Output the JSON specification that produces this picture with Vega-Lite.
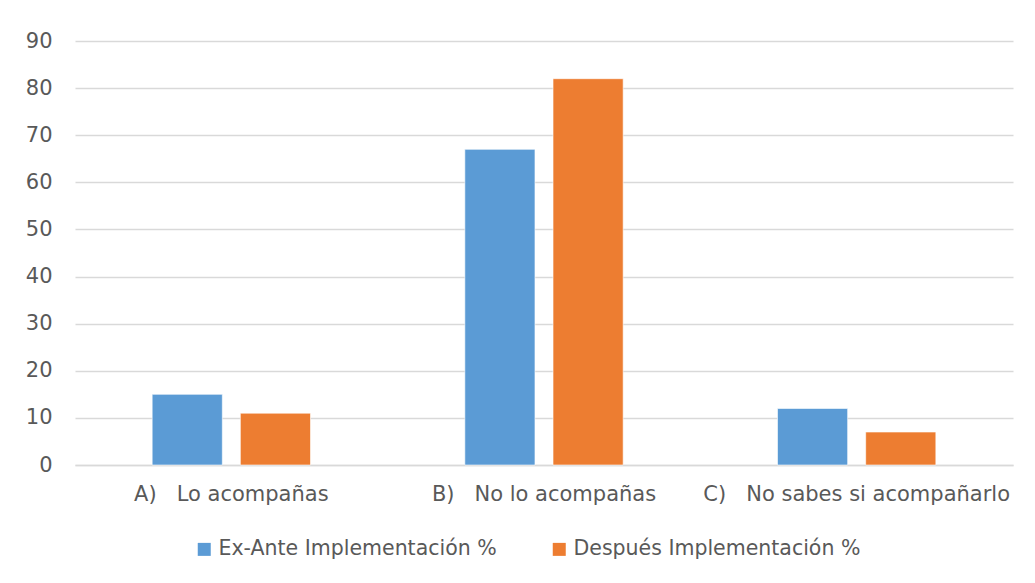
{
  "$schema": "https://vega.github.io/schema/vega-lite/v6.json",
  "autosize": {"type": "none"},
  "width": 938,
  "height": 424,
  "padding": {"left": 75, "top": 41, "right": 22, "bottom": 118},
  "background": "white",
  "data": {
    "values": [
      {"respuesta": "A)\u00a0\u00a0\u00a0Lo acompañas", "serie": "Ex-Ante Implementación %", "valor": 15},
      {"respuesta": "A)\u00a0\u00a0\u00a0Lo acompañas", "serie": "Después Implementación %", "valor": 11},
      {"respuesta": "B)\u00a0\u00a0\u00a0No lo acompañas", "serie": "Ex-Ante Implementación %", "valor": 67},
      {"respuesta": "B)\u00a0\u00a0\u00a0No lo acompañas", "serie": "Después Implementación %", "valor": 82},
      {"respuesta": "C)\u00a0\u00a0\u00a0No sabes si acompañarlo", "serie": "Ex-Ante Implementación %", "valor": 12},
      {"respuesta": "C)\u00a0\u00a0\u00a0No sabes si acompañarlo", "serie": "Después Implementación %", "valor": 7}
    ]
  },
  "mark": {"type": "bar", "stroke": "white", "strokeWidth": 1, "strokeOpacity": 0.6},
  "encoding": {
    "x": {
      "field": "respuesta",
      "type": "nominal",
      "sort": null,
      "title": null,
      "scale": {"paddingInner": 0, "paddingOuter": 0},
      "axis": {
        "labelAngle": 0,
        "labelPadding": 18,
        "labelLimit": 400,
        "ticks": false,
        "domain": true,
        "domainColor": "#d9d9d9",
        "domainWidth": 1.5,
        "labelFont": "DejaVu Sans",
        "labelFontSize": 21,
        "labelColor": "#595959"
      }
    },
    "xOffset": {
      "field": "serie",
      "type": "nominal",
      "sort": ["Ex-Ante Implementación %", "Después Implementación %"],
      "scale": {"paddingInner": 0.2045, "paddingOuter": 0.875}
    },
    "y": {
      "field": "valor",
      "type": "quantitative",
      "title": null,
      "scale": {"domain": [0, 90]},
      "axis": {
        "values": [0, 10, 20, 30, 40, 50, 60, 70, 80, 90],
        "ticks": false,
        "domain": false,
        "labelPadding": 23,
        "gridColor": "#d9d9d9",
        "gridWidth": 1.5,
        "labelFont": "DejaVu Sans",
        "labelFontSize": 21,
        "labelColor": "#595959"
      }
    },
    "color": {
      "field": "serie",
      "type": "nominal",
      "sort": ["Ex-Ante Implementación %", "Después Implementación %"],
      "scale": {"range": ["#5B9BD5", "#ED7D31"]},
      "legend": {
        "title": null,
        "orient": "none",
        "legendX": 119,
        "legendY": 498,
        "direction": "horizontal",
        "symbolType": "square",
        "symbolSize": 169,
        "symbolStrokeWidth": 0,
        "columnPadding": 52,
        "labelFont": "DejaVu Sans",
        "labelFontSize": 20.5,
        "labelColor": "#595959",
        "labelLimit": 400
      }
    }
  },
  "config": {"view": {"stroke": null}}
}
